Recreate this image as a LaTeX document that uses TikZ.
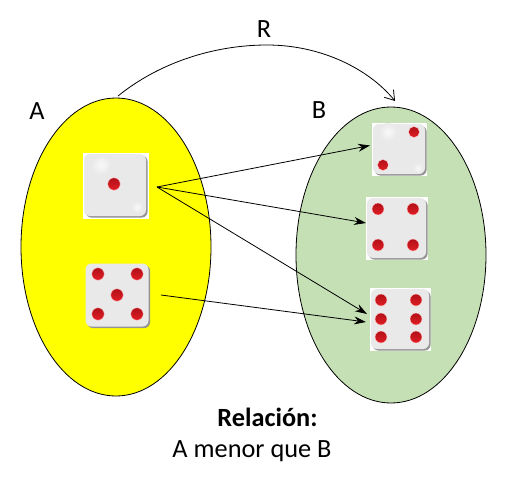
\documentclass[tikz,border=0pt]{standalone}
\usepackage{fontspec}
\setmainfont{Carlito}
\usetikzlibrary{shapes.geometric,shadows,arrows.meta}
\definecolor{setA}{RGB}{255,255,0}
\definecolor{setB}{RGB}{197,224,180}
\definecolor{dieface}{RGB}{233,233,233}
\definecolor{pipred}{RGB}{178,16,24}
\definecolor{piplow}{RGB}{225,30,36}
\tikzset{
  setbox/.style={draw=black,ellipse,minimum width=190pt,inner sep=0pt,line width=0.8pt},
  dieback/.style={fill=white,inner sep=0pt},
  dieface/.style={fill=dieface,rounded corners=6pt,inner sep=0pt,
    drop shadow={shadow xshift=1.6pt,shadow yshift=-1.6pt,fill=black!42,opacity=1}},
  pip/.style={circle,top color=pipred,bottom color=piplow,draw=red!20!white,line width=0.4pt,minimum size=12.5pt,inner sep=0pt},
  label/.style={font=\fontsize{26.3}{30}\selectfont,inner sep=0pt},
  rel/.style={-{Stealth[length=12pt,width=8pt]},black,line width=0.8pt}
}
\begin{document}
\begin{tikzpicture}[x=1pt,y=-1pt]
  \useasboundingbox (0,0) rectangle (512,482);

  % Sets
  \node[setbox,fill=setA,minimum height=298pt] (setA) at (116,247) {};
  \node[setbox,fill=setB,minimum height=296pt] (setB) at (391,255) {};
  \node[label] (nameA) at (37,111) {A};
  \node[label] (nameB) at (319,110) {B};
  \node[label] (nameR) at (264,29) {R};

  % Die one
  \node[dieback,minimum width=66pt,minimum height=66pt] (backone) at (116,186) {};
  \node[dieface,minimum width=62pt,minimum height=62pt] (dieone) at (115,185) {};
  \shade[inner color=white!70!dieface,outer color=dieface] (101,165) circle (10);
  \shade[inner color=white!70!dieface,outer color=dieface] (137,207) circle (6);
  \node[pip] (pipone) at (114,184) {};

  % Die five
  \node[dieface,minimum width=63pt,minimum height=63pt] (diefive) at (117,295) {};
  \foreach \px/\py in {98/274,137/274,117/295,98/314,137/314}
    \node[pip] at (\px,\py) {};

  % Die two
  \node[dieback,minimum width=55pt,minimum height=53pt] (backtwo) at (399.5,149.5) {};
  \node[dieface,minimum width=52pt,minimum height=50pt] (dietwo) at (399,149) {};
  \shade[inner color=white!70!dieface,outer color=dieface] (388,132) circle (9);
  \shade[inner color=white!70!dieface,outer color=dieface] (418,168) circle (5);
  \foreach \px/\py in {414/132,383/165}
    \node[pip,minimum size=11pt] at (\px,\py) {};

  % Die four
  \node[dieback,minimum width=62pt,minimum height=63pt] (backfour) at (397,228.5) {};
  \node[dieface,minimum width=59pt,minimum height=60pt] (diefour) at (396.5,228) {};
  \foreach \px/\py in {378/209,413/209,378/245,413/245}
    \node[pip,minimum size=12pt] at (\px,\py) {};

  % Die six
  \node[dieback,minimum width=61pt,minimum height=63pt] (backsix) at (400.5,319.5) {};
  \node[dieface,minimum width=58pt,minimum height=60pt] (diesix) at (400,319) {};
  \foreach \px/\py in {381/300,416/300,381/319,416/319,381/337,416/337}
    \node[pip,minimum size=12pt] at (\px,\py) {};

  % Arrows
  \coordinate (fromone) at (157,187);
  \coordinate (fromfive) at (161,295);
  \coordinate (totwo) at (370,145.5);
  \coordinate (tofour) at (366,223);
  \coordinate (tosixa) at (367,314);
  \coordinate (tosixb) at (366,322);
  \draw[rel] (fromone) -- (totwo);
  \draw[rel] (fromone) -- (tofour);
  \draw[rel] (fromone) -- (tosixa);
  \draw[rel] (fromfive) -- (tosixb);

  % Relation arc
  \coordinate (arcstart) at (118,96);
  \coordinate (arctop) at (267,45);
  \coordinate (arcend) at (395,101);
  \draw[-{Straight Barb[length=9pt,width=12pt]},line width=0.8pt] (arcstart) .. controls (160,62) and (215,45) .. (arctop) .. controls (320,45) and (368,68) .. (arcend);

  % Caption
  \node[label,font=\fontsize{26.3}{30}\selectfont\bfseries] (captop) at (267.5,417) {Relación:};
  \node[label] (capbot) at (252,451) {A menor que B};
\end{tikzpicture}
\end{document}
